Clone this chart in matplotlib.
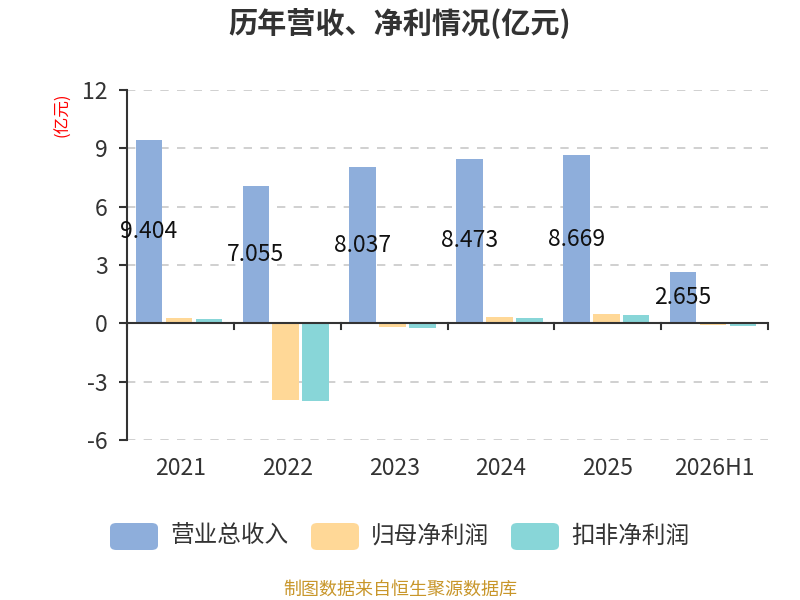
import matplotlib
matplotlib.use("Agg")
import matplotlib.pyplot as plt
from matplotlib.patches import FancyBboxPatch
import numpy as np

plt.rcParams['font.family'] = ['Noto Sans CJK SC', 'DejaVu Sans']

categories = ["2021", "2022", "2023", "2024", "2025", "2026H1"]
revenue = [9.404, 7.055, 8.037, 8.473, 8.669, 2.655]
net_profit = [0.26, -3.94, -0.19, 0.33, 0.49, -0.10]
net_profit_deducted = [0.21, -4.00, -0.24, 0.29, 0.45, -0.13]
series_names = ["营业总收入", "归母净利润", "扣非净利润"]
colors = ["#8eaedb", "#ffd897", "#88d6d8"]
yticks = [-6, -3, 0, 3, 6, 9, 12]

fig = plt.figure(figsize=(8, 6), dpi=100)
ax = fig.add_axes([0.159, 0.2667, 0.801, 0.5833])

x = np.arange(len(categories))
w = 0.25
gap = 0.03
offsets = [-(w + gap), 0, (w + gap)]
series = [revenue, net_profit, net_profit_deducted]
for vals, off, c in zip(series, offsets, colors):
    ax.bar(x + off - 0.015, vals, width=w, color=c, zorder=3)

for xi, v in zip(x, revenue):
    ax.text(xi + offsets[0] - 0.015, v / 2, f"{v:.3f}", ha='center', va='center',
            fontsize=16.5, color='#111111', zorder=4)

ax.set_xlim(-0.5, len(categories) - 0.5)
ax.set_ylim(-6, 12)
ax.set_yticks(yticks)
ax.set_yticklabels([str(t) for t in yticks], fontsize=16.5, color='#333333')
ax.set_xticks(x)
ax.set_xticklabels(categories, fontsize=16.5, color='#333333')
ax.tick_params(axis='x', length=0, pad=12)
ax.tick_params(axis='y', length=6, width=1.5, color='#333333', pad=8)
for t in range(len(categories) + 1):
    ax.plot([t - 0.5, t - 0.5], [0, -0.3], color='#333333', lw=1.5,
            clip_on=False, zorder=5)
ax.axhline(0, color='#333333', lw=1.5, zorder=5)

for t in yticks:
    if t != 0:
        ax.axhline(t, color='#c8c8c8', lw=1.2, ls=(0, (5, 5)), zorder=1)

for s in ['top', 'right', 'bottom']:
    ax.spines[s].set_visible(False)
ax.spines['left'].set_color('#333333')
ax.spines['left'].set_linewidth(1.5)

fig.text(0.5, 0.962, "历年营收、净利情况(亿元)", ha='center', va='center',
         fontsize=21, fontweight='bold', color='#333333')
fig.text(0.078, 0.808, "(亿元)", rotation=90, ha='center', va='center',
         fontsize=12, color='#ff0000')

# legend
box_x = [110, 311, 511]
for bx, c, name in zip(box_x, colors, series_names):
    p = FancyBboxPatch((bx / 800, 1 - 550 / 600), 48 / 800, 27 / 600,
                       boxstyle="round,pad=0,rounding_size=0.008",
                       transform=fig.transFigure, facecolor=c, edgecolor='none')
    fig.patches.append(p)
    fig.text((bx + 60) / 800, 1 - 536 / 600, name, ha='left', va='center',
             fontsize=17, color='#333333')

fig.text(0.5, 1 - 590 / 600, "制图数据来自恒生聚源数据库", ha='center', va='center',
         fontsize=13, color='#c8962a')

fig.savefig("out.png", dpi=100)
